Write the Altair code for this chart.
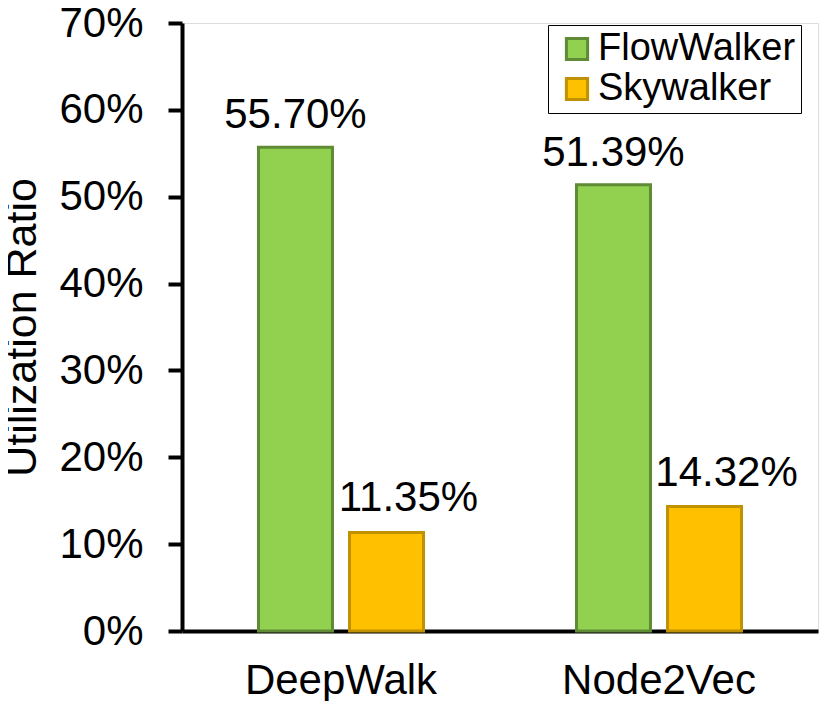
import altair as alt
import pandas as pd

datasets = ["DeepWalk", "Node2Vec"]
methods = ["FlowWalker", "Skywalker"]
flowwalker = [55.70, 51.39]
skywalker = [11.35, 14.32]
y_ticks = [0, 10, 20, 30, 40, 50, 60, 70]

fill_colors = ["#92D050", "#FFC000"]
stroke_colors = ["#5E8B34", "#C09100"]

rows = []
for i, d in enumerate(datasets):
    rows.append({"dataset": d, "method": methods[0], "value": flowwalker[i]})
    rows.append({"dataset": d, "method": methods[1], "value": skywalker[i]})
df = pd.DataFrame(rows)

FONT = "Liberation Sans"

x = alt.X("dataset:N", sort=datasets, title=None,
          scale=alt.Scale(paddingInner=0, paddingOuter=0),
          axis=alt.Axis(labelAngle=0, labelFontSize=42, labelFont=FONT, labelColor="black",
                        labelLimit=0, ticks=False, tickSize=0, labelPadding=29,
                        domainColor="black", domainWidth=4))
xoff = alt.XOffset("method:N", sort=methods,
                   scale=alt.Scale(paddingInner=0.187, paddingOuter=0.84))
y = alt.Y("value:Q", title="Utilization Ratio",
          scale=alt.Scale(domain=[0, 70], nice=False),
          axis=alt.Axis(values=y_ticks, labelExpr="datum.value + '%'", grid=False,
                        labelFontSize=42, labelFont=FONT, labelColor="black",
                        labelPadding=25, tickSize=14, tickWidth=4, tickColor="black",
                        domainColor="black", domainWidth=4,
                        titleFontSize=43, titleFont=FONT, titleFontWeight="normal",
                        titleColor="black", titlePadding=14))

legend = alt.Legend(title=None, orient="none", legendX=366, legendY=2,
                    symbolType="square", symbolSize=450, symbolStrokeWidth=3,
                    symbolOffset=5,
                    labelFontSize=38, labelFont=FONT, labelColor="black",
                    labelLimit=0, labelOffset=2, rowPadding=2, padding=5,
                    strokeColor="black", fillColor="white")

bars = alt.Chart(df).mark_bar(strokeWidth=3).encode(
    x=x, xOffset=xoff, y=y,
    fill=alt.Fill("method:N", sort=methods,
                  scale=alt.Scale(domain=methods, range=fill_colors), legend=legend),
    stroke=alt.Stroke("method:N", sort=methods,
                      scale=alt.Scale(domain=methods, range=stroke_colors), legend=legend),
)

base_text = alt.Chart(df).transform_calculate(
    label="format(datum.value, '.2f') + '%'"
)

labels_fw = base_text.transform_filter(alt.datum.method == methods[0]).mark_text(
    fontSize=42, font=FONT, color="black", baseline="alphabetic", dy=-19
).encode(x=x, xOffset=xoff, y=y, text="label:N")

labels_sw = base_text.transform_filter(alt.datum.method == methods[1]).mark_text(
    fontSize=42, font=FONT, color="black", baseline="alphabetic", dy=-21, dx=22
).encode(x=x, xOffset=xoff, y=y, text="label:N")

chart = alt.layer(bars, labels_fw, labels_sw).properties(
    width=636, height=608,
    autosize="none",
    padding={"left": 174, "top": 15, "right": 4, "bottom": 70},
).configure_view(stroke="black", strokeWidth=2.5).configure(background="white")

chart.save("out.html", embed_options={"renderer": "svg", "actions": False})
